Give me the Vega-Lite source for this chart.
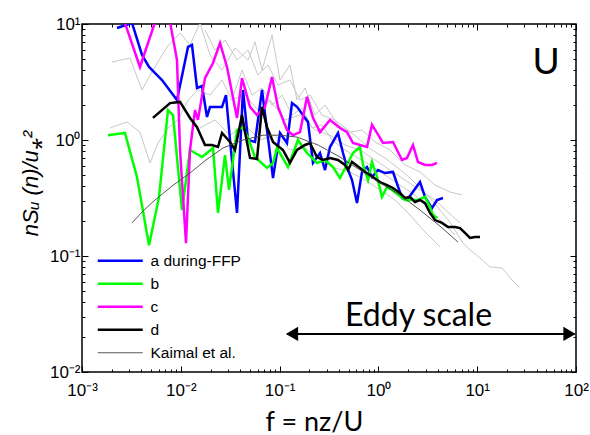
{
  "$schema": "https://vega.github.io/schema/vega-lite/v6.json",
  "width": 494,
  "height": 348,
  "autosize": "none",
  "padding": {"left": 82, "top": 24, "right": 14, "bottom": 63},
  "background": "white",
  "config": {
    "view": {"stroke": "black", "strokeWidth": 1.5},
    "font": "Liberation Sans",
    "axis": {"grid": false, "domain": false, "tickColor": "black", "tickWidth": 1, "labelColor": "black", "labelFont": "Liberation Sans", "labelFontSize": 16, "titleColor": "black", "labelOverlap": false, "labelBound": false, "labelFlush": false}
  },
  "datasets": {
    "lines": [
      {"s": "a during-FFP", "x": 0.00226, "y": 9.24}, {"s": "a during-FFP", "x": 0.00321, "y": 10.2}, {"s": "a during-FFP", "x": 0.00405, "y": 5.41}, {"s": "a during-FFP", "x": 0.00477, "y": 4.26}, {"s": "a during-FFP", "x": 0.00645, "y": 3.29}, {"s": "a during-FFP", "x": 0.00915, "y": 2.21}, {"s": "a during-FFP", "x": 0.01183, "y": 6.34}, {"s": "a during-FFP", "x": 0.01298, "y": 6.59}, {"s": "a during-FFP", "x": 0.01459, "y": 2.81}, {"s": "a during-FFP", "x": 0.01639, "y": 2.92}, {"s": "a during-FFP", "x": 0.01842, "y": 1.58}, {"s": "a during-FFP", "x": 0.01975, "y": 1.93}, {"s": "a during-FFP", "x": 0.02612, "y": 1.93}, {"s": "a during-FFP", "x": 0.02867, "y": 2.44}, {"s": "a during-FFP", "x": 0.03148, "y": 1.0}, {"s": "a during-FFP", "x": 0.03706, "y": 0.235}, {"s": "a during-FFP", "x": 0.04262, "y": 2.7}, {"s": "a during-FFP", "x": 0.04788, "y": 1.0}, {"s": "a during-FFP", "x": 0.05637, "y": 0.961}, {"s": "a during-FFP", "x": 0.06635, "y": 2.7}, {"s": "a during-FFP", "x": 0.07456, "y": 1.22}, {"s": "a during-FFP", "x": 0.08575, "y": 0.47}, {"s": "a during-FFP", "x": 0.1009, "y": 1.15}, {"s": "a during-FFP", "x": 0.1188, "y": 0.942}, {"s": "a during-FFP", "x": 0.1335, "y": 2.08}, {"s": "a during-FFP", "x": 0.15, "y": 1.93}, {"s": "a during-FFP", "x": 0.1938, "y": 1.43}, {"s": "a during-FFP", "x": 0.2178, "y": 0.634}, {"s": "a during-FFP", "x": 0.2564, "y": 0.772}, {"s": "a during-FFP", "x": 0.2881, "y": 0.551}, {"s": "a during-FFP", "x": 0.3237, "y": 0.87}, {"s": "a during-FFP", "x": 0.39, "y": 1.15}, {"s": "a during-FFP", "x": 0.4382, "y": 0.772}, {"s": "a during-FFP", "x": 0.4811, "y": 0.585}, {"s": "a during-FFP", "x": 0.5406, "y": 0.452}, {"s": "a during-FFP", "x": 0.6073, "y": 0.286}, {"s": "a during-FFP", "x": 0.6823, "y": 0.53}, {"s": "a during-FFP", "x": 0.7667, "y": 0.585}, {"s": "a during-FFP", "x": 0.8614, "y": 0.48}, {"s": "a during-FFP", "x": 0.9908, "y": 0.551}, {"s": "a during-FFP", "x": 1.166, "y": 0.519}, {"s": "a during-FFP", "x": 1.405, "y": 0.53}, {"s": "a during-FFP", "x": 1.734, "y": 0.316}, {"s": "a during-FFP", "x": 1.948, "y": 0.304}, {"s": "a during-FFP", "x": 2.636, "y": 0.434}, {"s": "a during-FFP", "x": 2.963, "y": 0.323}, {"s": "a during-FFP", "x": 3.487, "y": 0.259}, {"s": "a during-FFP", "x": 3.918, "y": 0.304}, {"s": "a during-FFP", "x": 4.507, "y": 0.316},
      {"s": "b", "x": 0.00183, "y": 1.1}, {"s": "b", "x": 0.00272, "y": 1.15}, {"s": "b", "x": 0.0036, "y": 0.48}, {"s": "b", "x": 0.00477, "y": 0.124}, {"s": "b", "x": 0.00602, "y": 0.323}, {"s": "b", "x": 0.00742, "y": 1.81}, {"s": "b", "x": 0.00834, "y": 1.64}, {"s": "b", "x": 0.01028, "y": 0.249}, {"s": "b", "x": 0.01239, "y": 0.82}, {"s": "b", "x": 0.01639, "y": 0.713}, {"s": "b", "x": 0.02118, "y": 0.853}, {"s": "b", "x": 0.0238, "y": 0.235}, {"s": "b", "x": 0.02802, "y": 0.742}, {"s": "b", "x": 0.03075, "y": 0.371}, {"s": "b", "x": 0.03706, "y": 1.22}, {"s": "b", "x": 0.04262, "y": 1.29}, {"s": "b", "x": 0.04788, "y": 1.04}, {"s": "b", "x": 0.05637, "y": 0.713}, {"s": "b", "x": 0.07456, "y": 0.574}, {"s": "b", "x": 0.08575, "y": 0.634}, {"s": "b", "x": 0.09412, "y": 0.853}, {"s": "b", "x": 0.1216, "y": 0.585}, {"s": "b", "x": 0.1535, "y": 1.0}, {"s": "b", "x": 0.1894, "y": 0.772}, {"s": "b", "x": 0.2391, "y": 0.634}, {"s": "b", "x": 0.2881, "y": 0.673}, {"s": "b", "x": 0.3471, "y": 0.585}, {"s": "b", "x": 0.4086, "y": 0.47}, {"s": "b", "x": 0.5533, "y": 0.772}, {"s": "b", "x": 0.6513, "y": 0.87}, {"s": "b", "x": 0.6985, "y": 0.609}, {"s": "b", "x": 0.7846, "y": 0.452}, {"s": "b", "x": 0.8614, "y": 0.646}, {"s": "b", "x": 0.9678, "y": 0.48}, {"s": "b", "x": 1.088, "y": 0.323}, {"s": "b", "x": 1.222, "y": 0.393}, {"s": "b", "x": 1.373, "y": 0.371}, {"s": "b", "x": 1.859, "y": 0.304}, {"s": "b", "x": 2.516, "y": 0.304}, {"s": "b", "x": 2.963, "y": 0.323}, {"s": "b", "x": 3.329, "y": 0.264}, {"s": "b", "x": 3.57, "y": 0.226}, {"s": "b", "x": 3.918, "y": 0.213},
      {"s": "c", "x": 0.00272, "y": 10.2}, {"s": "c", "x": 0.00386, "y": 4.26}, {"s": "c", "x": 0.00536, "y": 9.8}, {"s": "c", "x": 0.00574, "y": 10.83}, {"s": "c", "x": 0.00778, "y": 10.4}, {"s": "c", "x": 0.00915, "y": 4.89}, {"s": "c", "x": 0.00982, "y": 0.82}, {"s": "c", "x": 0.01129, "y": 0.129}, {"s": "c", "x": 0.01239, "y": 0.82}, {"s": "c", "x": 0.01392, "y": 1.81}, {"s": "c", "x": 0.01493, "y": 1.49}, {"s": "c", "x": 0.01757, "y": 3.42}, {"s": "c", "x": 0.02118, "y": 4.61}, {"s": "c", "x": 0.02494, "y": 6.86}, {"s": "c", "x": 0.02935, "y": 4.26}, {"s": "c", "x": 0.03706, "y": 1.55}, {"s": "c", "x": 0.04164, "y": 3.42}, {"s": "c", "x": 0.05017, "y": 1.93}, {"s": "c", "x": 0.05905, "y": 1.64}, {"s": "c", "x": 0.07116, "y": 1.93}, {"s": "c", "x": 0.08377, "y": 3.49}, {"s": "c", "x": 0.09634, "y": 1.93}, {"s": "c", "x": 0.1188, "y": 1.22}, {"s": "c", "x": 0.1366, "y": 1.1}, {"s": "c", "x": 0.1609, "y": 1.17}, {"s": "c", "x": 0.1894, "y": 2.35}, {"s": "c", "x": 0.2178, "y": 1.55}, {"s": "c", "x": 0.2564, "y": 1.17}, {"s": "c", "x": 0.3237, "y": 1.49}, {"s": "c", "x": 0.4086, "y": 1.27}, {"s": "c", "x": 0.4811, "y": 1.17}, {"s": "c", "x": 0.5533, "y": 0.942}, {"s": "c", "x": 0.6513, "y": 0.906}, {"s": "c", "x": 0.7667, "y": 0.87}, {"s": "c", "x": 0.8614, "y": 1.35}, {"s": "c", "x": 0.9678, "y": 1.15}, {"s": "c", "x": 1.113, "y": 0.942}, {"s": "c", "x": 1.405, "y": 0.961}, {"s": "c", "x": 1.734, "y": 0.673}, {"s": "c", "x": 1.948, "y": 0.7}, {"s": "c", "x": 2.24, "y": 0.906}, {"s": "c", "x": 2.516, "y": 0.646}, {"s": "c", "x": 2.963, "y": 0.609}, {"s": "c", "x": 3.487, "y": 0.609}, {"s": "c", "x": 3.918, "y": 0.634},
      {"s": "d", "x": 0.00523, "y": 1.55}, {"s": "d", "x": 0.00778, "y": 2.08}, {"s": "d", "x": 0.00982, "y": 2.13}, {"s": "d", "x": 0.01239, "y": 1.55}, {"s": "d", "x": 0.01459, "y": 1.29}, {"s": "d", "x": 0.01757, "y": 0.906}, {"s": "d", "x": 0.02069, "y": 0.906}, {"s": "d", "x": 0.0238, "y": 0.87}, {"s": "d", "x": 0.02612, "y": 1.15}, {"s": "d", "x": 0.03148, "y": 0.961}, {"s": "d", "x": 0.03537, "y": 0.82}, {"s": "d", "x": 0.04164, "y": 1.64}, {"s": "d", "x": 0.04465, "y": 1.17}, {"s": "d", "x": 0.05017, "y": 0.7}, {"s": "d", "x": 0.05905, "y": 0.686}, {"s": "d", "x": 0.06635, "y": 1.93}, {"s": "d", "x": 0.07456, "y": 1.29}, {"s": "d", "x": 0.08575, "y": 0.961}, {"s": "d", "x": 0.1082, "y": 0.82}, {"s": "d", "x": 0.1274, "y": 0.634}, {"s": "d", "x": 0.15, "y": 0.82}, {"s": "d", "x": 0.1807, "y": 0.906}, {"s": "d", "x": 0.2031, "y": 0.942}, {"s": "d", "x": 0.2391, "y": 0.713}, {"s": "d", "x": 0.275, "y": 0.673}, {"s": "d", "x": 0.3237, "y": 0.7}, {"s": "d", "x": 0.39, "y": 0.673}, {"s": "d", "x": 0.4591, "y": 0.609}, {"s": "d", "x": 0.4924, "y": 0.551}, {"s": "d", "x": 0.5406, "y": 0.646}, {"s": "d", "x": 0.6513, "y": 0.574}, {"s": "d", "x": 0.7317, "y": 0.53}, {"s": "d", "x": 0.8222, "y": 0.499}, {"s": "d", "x": 1.038, "y": 0.434}, {"s": "d", "x": 1.222, "y": 0.409}, {"s": "d", "x": 1.405, "y": 0.386}, {"s": "d", "x": 1.654, "y": 0.349}, {"s": "d", "x": 1.859, "y": 0.316}, {"s": "d", "x": 2.089, "y": 0.323}, {"s": "d", "x": 2.347, "y": 0.292}, {"s": "d", "x": 2.636, "y": 0.304}, {"s": "d", "x": 2.963, "y": 0.286}, {"s": "d", "x": 3.329, "y": 0.235}, {"s": "d", "x": 3.74, "y": 0.204}, {"s": "d", "x": 4.403, "y": 0.193}, {"s": "d", "x": 5.064, "y": 0.178}, {"s": "d", "x": 5.961, "y": 0.178}, {"s": "d", "x": 6.697, "y": 0.174}, {"s": "d", "x": 7.524, "y": 0.158}, {"s": "d", "x": 8.456, "y": 0.143}, {"s": "d", "x": 9.5, "y": 0.146}, {"s": "d", "x": 10.67, "y": 0.146},
      {"s": "Kaimal et al.", "x": 0.00321, "y": 0.193}, {"s": "Kaimal et al.", "x": 0.00414, "y": 0.244}, {"s": "Kaimal et al.", "x": 0.00548, "y": 0.304}, {"s": "Kaimal et al.", "x": 0.00815, "y": 0.401}, {"s": "Kaimal et al.", "x": 0.01239, "y": 0.519}, {"s": "Kaimal et al.", "x": 0.01799, "y": 0.673}, {"s": "Kaimal et al.", "x": 0.02674, "y": 0.853}, {"s": "Kaimal et al.", "x": 0.04262, "y": 1.0}, {"s": "Kaimal et al.", "x": 0.06792, "y": 1.1}, {"s": "Kaimal et al.", "x": 0.1009, "y": 1.1}, {"s": "Kaimal et al.", "x": 0.15, "y": 1.06}, {"s": "Kaimal et al.", "x": 0.2447, "y": 0.906}, {"s": "Kaimal et al.", "x": 0.4086, "y": 0.713}, {"s": "Kaimal et al.", "x": 0.6513, "y": 0.551}, {"s": "Kaimal et al.", "x": 1.038, "y": 0.426}, {"s": "Kaimal et al.", "x": 1.654, "y": 0.336}, {"s": "Kaimal et al.", "x": 2.636, "y": 0.249}, {"s": "Kaimal et al.", "x": 4.202, "y": 0.181}, {"s": "Kaimal et al.", "x": 6.391, "y": 0.132}
    ],
    "gray": [
      {"g": "g1", "x": 0.00201, "y": 4.7}, {"g": "g1", "x": 0.00306, "y": 5.09}, {"g": "g1", "x": 0.00405, "y": 2.7}, {"g": "g1", "x": 0.00511, "y": 3.86}, {"g": "g1", "x": 0.00725, "y": 6.34}, {"g": "g1", "x": 0.00982, "y": 8.36}, {"g": "g1", "x": 0.01239, "y": 6.59}, {"g": "g1", "x": 0.01564, "y": 10.2}, {"g": "g1", "x": 0.01975, "y": 5.41}, {"g": "g1", "x": 0.02612, "y": 4.01}, {"g": "g1", "x": 0.03537, "y": 6.21}, {"g": "g1", "x": 0.04788, "y": 4.89}, {"g": "g1", "x": 0.05637, "y": 7.0}, {"g": "g1", "x": 0.06635, "y": 4.01}, {"g": "g1", "x": 0.08377, "y": 8.04}, {"g": "g1", "x": 0.1009, "y": 3.29}, {"g": "g1", "x": 0.1274, "y": 4.43}, {"g": "g1", "x": 0.15, "y": 2.21}, {"g": "g1", "x": 0.1807, "y": 2.81}, {"g": "g1", "x": 0.2282, "y": 1.64}, {"g": "g1", "x": 0.2881, "y": 2.0}, {"g": "g1", "x": 0.39, "y": 1.35}, {"g": "g1", "x": 0.5159, "y": 1.17}, {"g": "g1", "x": 0.6823, "y": 1.22}, {"g": "g1", "x": 0.9237, "y": 0.961}, {"g": "g1", "x": 1.311, "y": 0.82}, {"g": "g1", "x": 1.859, "y": 0.609}, {"g": "g1", "x": 2.636, "y": 0.53}, {"g": "g1", "x": 3.74, "y": 0.409}, {"g": "g1", "x": 5.305, "y": 0.356}, {"g": "g1", "x": 7.016, "y": 0.336},
      {"g": "g2", "x": 0.00192, "y": 1.27}, {"g": "g2", "x": 0.00285, "y": 1.43}, {"g": "g2", "x": 0.00386, "y": 1.17}, {"g": "g2", "x": 0.00488, "y": 0.634}, {"g": "g2", "x": 0.00588, "y": 0.942}, {"g": "g2", "x": 0.00742, "y": 1.27}, {"g": "g2", "x": 0.00937, "y": 1.49}, {"g": "g2", "x": 0.01183, "y": 2.21}, {"g": "g2", "x": 0.01493, "y": 2.7}, {"g": "g2", "x": 0.01975, "y": 2.44}, {"g": "g2", "x": 0.02612, "y": 3.29}, {"g": "g2", "x": 0.03298, "y": 2.21}, {"g": "g2", "x": 0.04164, "y": 4.01}, {"g": "g2", "x": 0.05256, "y": 2.44}, {"g": "g2", "x": 0.06635, "y": 2.81}, {"g": "g2", "x": 0.08377, "y": 2.0}, {"g": "g2", "x": 0.1057, "y": 2.44}, {"g": "g2", "x": 0.1335, "y": 1.64}, {"g": "g2", "x": 0.1685, "y": 1.89}, {"g": "g2", "x": 0.2128, "y": 1.27}, {"g": "g2", "x": 0.2686, "y": 1.35}, {"g": "g2", "x": 0.3392, "y": 1.0}, {"g": "g2", "x": 0.4591, "y": 0.82}, {"g": "g2", "x": 0.6216, "y": 0.7}, {"g": "g2", "x": 0.8222, "y": 0.609}, {"g": "g2", "x": 1.166, "y": 0.499}, {"g": "g2", "x": 1.654, "y": 0.409}, {"g": "g2", "x": 2.347, "y": 0.336}, {"g": "g2", "x": 3.329, "y": 0.249}, {"g": "g2", "x": 4.722, "y": 0.185}, {"g": "g2", "x": 5.961, "y": 0.152},
      {"g": "g3", "x": 0.01757, "y": 8.88}, {"g": "g3", "x": 0.0222, "y": 5.97}, {"g": "g3", "x": 0.02802, "y": 7.28}, {"g": "g3", "x": 0.03706, "y": 4.89}, {"g": "g3", "x": 0.04788, "y": 5.97}, {"g": "g3", "x": 0.06045, "y": 3.63}, {"g": "g3", "x": 0.07632, "y": 4.43}, {"g": "g3", "x": 0.09634, "y": 2.98}, {"g": "g3", "x": 0.1274, "y": 3.29}, {"g": "g3", "x": 0.1609, "y": 2.21}, {"g": "g3", "x": 0.2031, "y": 2.44}, {"g": "g3", "x": 0.2686, "y": 1.64}, {"g": "g3", "x": 0.3637, "y": 1.49}, {"g": "g3", "x": 0.4924, "y": 1.22}, {"g": "g3", "x": 0.6513, "y": 1.0}, {"g": "g3", "x": 0.8614, "y": 0.82}, {"g": "g3", "x": 1.166, "y": 0.7}, {"g": "g3", "x": 1.579, "y": 0.574}, {"g": "g3", "x": 2.089, "y": 0.47}, {"g": "g3", "x": 2.636, "y": 0.386}, {"g": "g3", "x": 3.329, "y": 0.316}, {"g": "g3", "x": 4.202, "y": 0.249}, {"g": "g3", "x": 5.305, "y": 0.196}, {"g": "g3", "x": 7.182, "y": 0.129}, {"g": "g3", "x": 8.456, "y": 0.113}, {"g": "g3", "x": 10.67, "y": 0.0961}, {"g": "g3", "x": 13.48, "y": 0.0804}, {"g": "g3", "x": 17.82, "y": 0.0788}, {"g": "g3", "x": 22.5, "y": 0.0621}, {"g": "g3", "x": 26.49, "y": 0.054},
      {"g": "g4", "x": 0.01564, "y": 1.27}, {"g": "g4", "x": 0.0222, "y": 1.49}, {"g": "g4", "x": 0.03148, "y": 1.1}, {"g": "g4", "x": 0.04465, "y": 1.35}, {"g": "g4", "x": 0.06333, "y": 1.0}, {"g": "g4", "x": 0.08984, "y": 1.1}, {"g": "g4", "x": 0.1274, "y": 0.82}, {"g": "g4", "x": 0.1807, "y": 0.853}, {"g": "g4", "x": 0.2564, "y": 0.673}, {"g": "g4", "x": 0.3637, "y": 0.574}, {"g": "g4", "x": 0.5159, "y": 0.53}, {"g": "g4", "x": 0.7317, "y": 0.452}, {"g": "g4", "x": 1.038, "y": 0.371}, {"g": "g4", "x": 1.472, "y": 0.304}, {"g": "g4", "x": 2.089, "y": 0.226}, {"g": "g4", "x": 2.963, "y": 0.161}, {"g": "g4", "x": 4.202, "y": 0.12},
      {"g": "g5", "x": 0.03148, "y": 2.21}, {"g": "g5", "x": 0.04465, "y": 2.44}, {"g": "g5", "x": 0.06045, "y": 1.81}, {"g": "g5", "x": 0.07995, "y": 2.21}, {"g": "g5", "x": 0.1134, "y": 1.49}, {"g": "g5", "x": 0.1609, "y": 1.64}, {"g": "g5", "x": 0.2282, "y": 1.22}, {"g": "g5", "x": 0.3237, "y": 1.1}, {"g": "g5", "x": 0.4591, "y": 0.906}, {"g": "g5", "x": 0.6513, "y": 0.82}, {"g": "g5", "x": 0.9237, "y": 0.673}, {"g": "g5", "x": 1.311, "y": 0.551}, {"g": "g5", "x": 1.859, "y": 0.452}, {"g": "g5", "x": 2.636, "y": 0.371}, {"g": "g5", "x": 3.74, "y": 0.304}, {"g": "g5", "x": 5.064, "y": 0.239}, {"g": "g5", "x": 6.697, "y": 0.193}
    ]
  },
  "layer": [
    {
      "data": {"name": "gray"},
      "mark": {"type": "line", "clip": true, "color": "#c8c8c8", "strokeWidth": 1},
      "encoding": {
        "x": {"field": "x", "type": "quantitative", "scale": {"type": "log", "domain": [0.001, 100], "nice": false},
          "axis": {"orient": "bottom", "values": [0.001,0.002,0.003,0.004,0.005,0.006,0.007,0.008,0.009,0.01,0.02,0.03,0.04,0.05,0.06,0.07,0.08,0.09,0.1,0.2,0.3,0.4,0.5,0.6,0.7,0.8,0.9,1,2,3,4,5,6,7,8,9,10,20,30,40,50,60,70,80,90,100],
            "labelExpr": "datum.value==0.001?'10⁻³':datum.value==0.01?'10⁻²':datum.value==0.1?'10⁻¹':datum.value==1?'10⁰':datum.value==10?'10¹':datum.value==100?'10²':''",
            "tickSize": {"condition": {"test": "datum.value==0.001||datum.value==0.01||datum.value==0.1||datum.value==1||datum.value==10||datum.value==100", "value": -6}, "value": -3},
            "labelPadding": 16, "labelFontSize": 17, "labelFont": "Liberation Sans",
            "title": "f = nz/U", "titleFont": "Lato", "titleFontSize": 27, "titleFontWeight": "normal", "titleX": 232, "titleY": 58, "titleBaseline": "alphabetic", "titleAlign": "center"}},
        "y": {"field": "y", "type": "quantitative", "scale": {"type": "log", "domain": [0.01, 10], "nice": false},
          "axis": {"orient": "left", "values": [0.01,0.02,0.03,0.04,0.05,0.06,0.07,0.08,0.09,0.1,0.2,0.3,0.4,0.5,0.6,0.7,0.8,0.9,1,2,3,4,5,6,7,8,9,10],
            "labelExpr": "datum.value==0.01?'10⁻²':datum.value==0.1?'10⁻¹':datum.value==1?'10⁰':datum.value==10?'10¹':''",
            "tickSize": {"condition": {"test": "datum.value==0.01||datum.value==0.1||datum.value==1||datum.value==10", "value": -6}, "value": -3},
            "labelPadding": 8, "labelFontSize": 17, "labelFont": "Liberation Sans",
            "title": "nSᵤ (n)/u⁎²", "titleFont": "Liberation Sans", "titleFontStyle": "italic", "titleFontSize": 22, "titleFontWeight": "normal", "titleAngle": -90, "titleX": -52, "titleY": 159, "titleBaseline": "middle", "titleAlign": "center"}},
        "detail": {"field": "g", "type": "nominal"}
      }
    },
    {
      "data": {"name": "lines"},
      "mark": {"type": "line", "clip": true},
      "encoding": {
        "x": {"field": "x", "type": "quantitative", "axis": null},
        "y": {"field": "y", "type": "quantitative", "axis": null},
        "color": {"field": "s", "type": "nominal", "sort": null,
          "scale": {"domain": ["a during-FFP", "b", "c", "d", "Kaimal et al."], "range": ["#0000ff", "#00ff00", "#ff00ff", "#000000", "#444444"]},
          "legend": {"orient": "none", "legendX": 30.5, "legendY": 229, "title": null, "symbolType": "M-4.5,0H4.5", "symbolSize": 100, "labelFontSize": 15.5, "labelFont": "Liberation Sans", "labelOffset": 22.5, "rowPadding": 6, "padding": 0, "labelColor": "black"}},
        "strokeWidth": {"field": "s", "type": "nominal", "sort": null,
          "scale": {"type": "ordinal", "domain": ["a during-FFP", "b", "c", "d", "Kaimal et al."], "range": [2.5, 2.5, 2.5, 2.5, 0.9]},
          "legend": {"orient": "none", "legendX": 30.5, "legendY": 229, "title": null, "symbolType": "M-4.5,0H4.5", "symbolSize": 100, "labelFontSize": 15.5, "labelFont": "Liberation Sans", "labelOffset": 22.5, "rowPadding": 6, "padding": 0, "labelColor": "black"}}
      }
    },
    {
      "data": {"values": [{"x": 0.119, "x2": 97, "y": 0.0213}]},
      "mark": {"type": "rule", "color": "black", "strokeWidth": 2},
      "encoding": {
        "x": {"field": "x", "type": "quantitative", "axis": null},
        "x2": {"field": "x2"},
        "y": {"field": "y", "type": "quantitative", "axis": null}
      }
    },
    {
      "data": {"values": [{"x": 0.1335, "y": 0.0213}]},
      "mark": {"type": "point", "shape": "triangle-left", "filled": true, "color": "black", "size": 200, "opacity": 1},
      "encoding": {
        "x": {"field": "x", "type": "quantitative", "axis": null},
        "y": {"field": "y", "type": "quantitative", "axis": null}
      }
    },
    {
      "data": {"values": [{"x": 86, "y": 0.0213}]},
      "mark": {"type": "point", "shape": "triangle-right", "filled": true, "color": "black", "size": 200, "opacity": 1},
      "encoding": {
        "x": {"field": "x", "type": "quantitative", "axis": null},
        "y": {"field": "y", "type": "quantitative", "axis": null}
      }
    },
    {
      "data": {"values": [{"label": "Eddy scale", "x": 0.459, "y": 0.0249}]},
      "mark": {"type": "text", "align": "left", "baseline": "alphabetic", "font": "Lato", "fontSize": 32, "color": "black"},
      "encoding": {
        "x": {"field": "x", "type": "quantitative", "axis": null},
        "y": {"field": "y", "type": "quantitative", "axis": null},
        "text": {"field": "label"}
      }
    },
    {
      "data": {"values": [{"label": "U", "x": 49.7, "y": 4.61}]},
      "mark": {"type": "text", "align": "center", "baseline": "middle", "font": "Lato", "fontSize": 37, "color": "black"},
      "encoding": {
        "x": {"field": "x", "type": "quantitative",
          "axis": {"orient": "top", "labels": false, "title": null, "values": [0.001,0.002,0.003,0.004,0.005,0.006,0.007,0.008,0.009,0.01,0.02,0.03,0.04,0.05,0.06,0.07,0.08,0.09,0.1,0.2,0.3,0.4,0.5,0.6,0.7,0.8,0.9,1,2,3,4,5,6,7,8,9,10,20,30,40,50,60,70,80,90,100],
            "tickSize": {"condition": {"test": "datum.value==0.001||datum.value==0.01||datum.value==0.1||datum.value==1||datum.value==10||datum.value==100", "value": -6}, "value": -3}}},
        "y": {"field": "y", "type": "quantitative",
          "axis": {"orient": "right", "labels": false, "title": null, "values": [0.01,0.02,0.03,0.04,0.05,0.06,0.07,0.08,0.09,0.1,0.2,0.3,0.4,0.5,0.6,0.7,0.8,0.9,1,2,3,4,5,6,7,8,9,10],
            "tickSize": {"condition": {"test": "datum.value==0.01||datum.value==0.1||datum.value==1||datum.value==10", "value": -6}, "value": -3}}},
        "text": {"field": "label"}
      }
    }
  ],
  "resolve": {"axis": {"x": "independent", "y": "independent"}}
}
